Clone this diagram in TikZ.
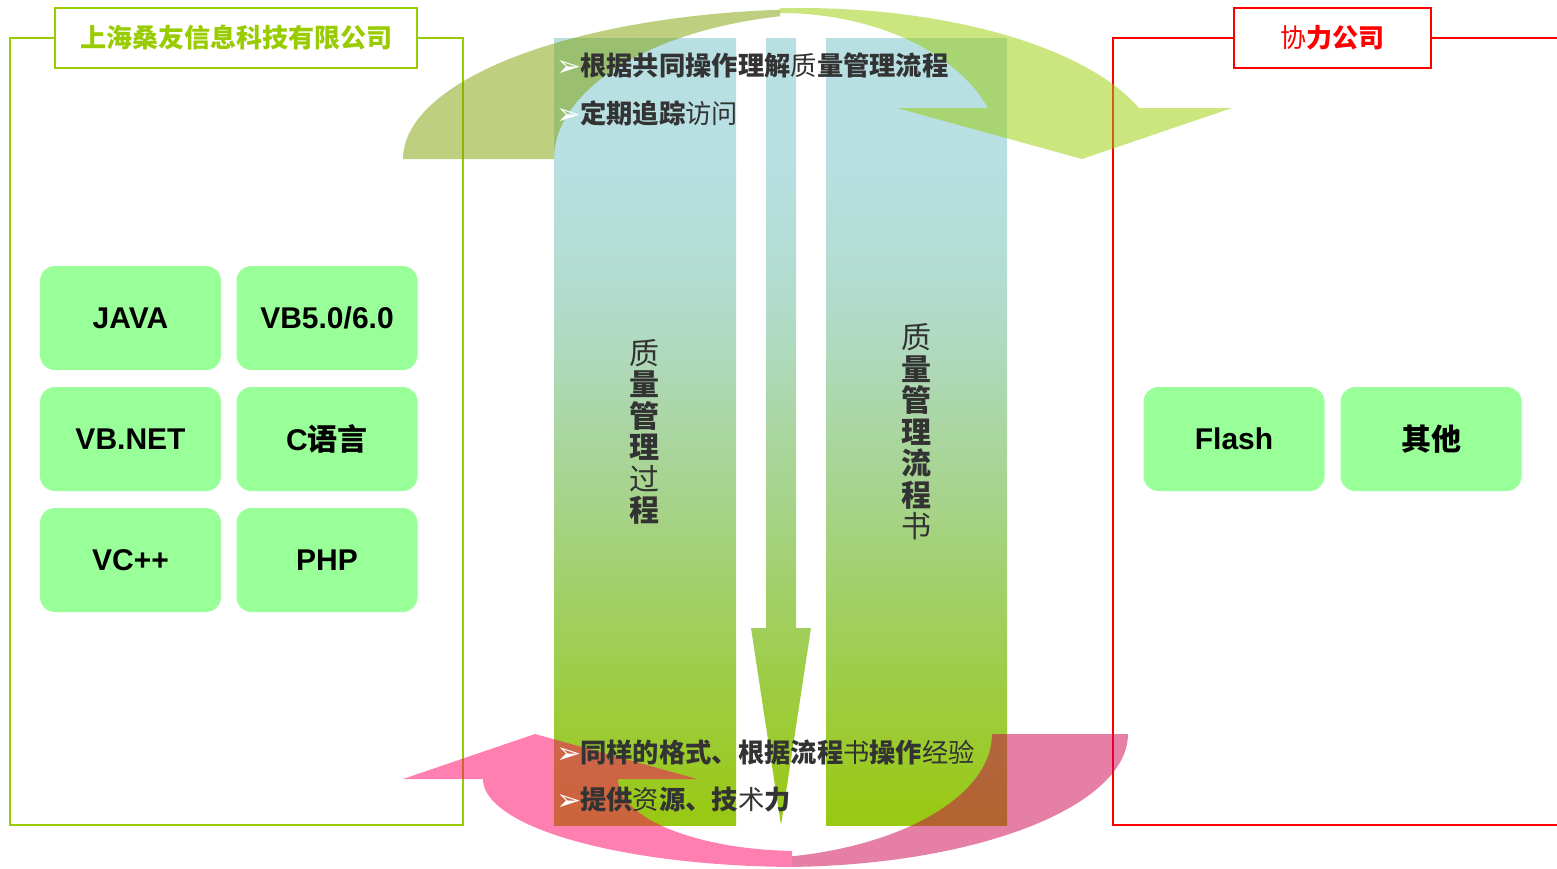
\documentclass[tikz,border=0pt]{standalone}
\usepackage{fontspec}
\newfontfamily\cjk{Noto Sans CJK SC}
\newfontfamily\arialf{Liberation Sans}
\newfontfamily\dejavu{DejaVu Sans}
\definecolor{lgreen}{HTML}{99CC00}
\definecolor{boxgreen}{HTML}{99FF99}
\definecolor{txtgray}{HTML}{333333}
\definecolor{cgA}{RGB}{153,201,17}
\definecolor{cgB}{RGB}{158,205,75}
\definecolor{cgB2}{RGB}{166,211,135}
\definecolor{cgC}{RGB}{178,219,205}
\definecolor{cgD}{RGB}{184,224,227}
\definecolor{topdarkc}{RGB}{127,160,0}
\definecolor{pinkl}{RGB}{255,0,101}
\definecolor{pinkd}{RGB}{204,0,77}
\pgfdeclareverticalshading{colgrad}{100bp}{color(0bp)=(cgA); color(25bp)=(cgA); color(35bp)=(cgB); color(45bp)=(cgB2); color(58.35bp)=(cgC); color(67.5bp)=(cgD); color(100bp)=(cgD)}
\newcommand{\rg}[1]{{\mdseries #1}}
\tikzset{
  tbox/.style={fill=boxgreen, rounded corners=15pt, minimum width=181pt, minimum height=104pt, inner sep=0pt, font=\arialf\bfseries\fontsize{30}{36}\selectfont, text=black},
  titlebox/.style={line width=2pt, fill=white, minimum height=60pt, inner sep=0pt, font=\cjk\bfseries\fontsize{26}{30}\selectfont},
  vtext/.style={align=center, inner sep=0pt, text=txtgray, font=\cjk\bfseries\fontsize{30}{31.5}\selectfont},
  bullettext/.style={anchor=west, inner sep=0pt, text=txtgray, font=\cjk\bfseries\fontsize{26.3}{30}\selectfont},
  frameline/.style={line width=2pt},
  arrowfill/.style={fill opacity=0.5}
}
\newcommand{\bul}{{\dejavu\fontsize{30}{30}\selectfont\color{white}\raisebox{-1pt}{➢}}\hspace{-1pt}}
\begin{document}
\begin{tikzpicture}[x=1pt,y=-1pt]
\useasboundingbox (0,0) rectangle (1557,868);
\fill[white] (0,0) rectangle (1557,868);

% frames
\draw[frameline, lgreen] (10,38) rectangle (463,825);
\draw[frameline, red] (1557,38) -- (1113,38) -- (1113,825) -- (1557,825);
\node[titlebox, draw=lgreen, minimum width=362pt, text=lgreen] (t1) at (236,38) {上海桑友信息科技有限公司};
\node[titlebox, draw=red, minimum width=197pt, text=red] (t2) at (1332.5,38) {\rg{协}力公司};

% boxes
\node[tbox] (java) at (130.5,318) {JAVA};
\node[tbox] (vb) at (327,318) {VB5.0/6.0};
\node[tbox] (vbnet) at (130.5,439) {VB.NET};
\node[tbox] (cl) at (327,439) {C{\cjk 语言}};
\node[tbox] (vc) at (130.5,560) {VC++};
\node[tbox] (php) at (327,560) {PHP};
\node[tbox] (flash) at (1234,439) {Flash};
\node[tbox] (other) at (1431,439) {{\cjk 其他}};

% columns
\path[shading=colgrad] (554,38) rectangle (736,825);
\path[shading=colgrad] (826,38) rectangle (1007,825);
\path[shading=colgrad] (766,38) -- (796,38) -- (796,628) -- (811,628) -- (781,825) -- (751,628) -- (766,628) -- cycle;

% top curved arrow
\fill[arrowfill, topdarkc] plot[domain=180:264.5,samples=60,variable=\t] ({820+417*cos(\t)},{159+150*sin(\t)})
  -- plot[domain=257.9:180,samples=60,variable=\t] ({840+286*cos(\t)},{159+146*sin(\t)}) -- cycle;
\fill[arrowfill, lgreen] plot[domain=266.8:340.3,samples=60,variable=\t] ({800+360*cos(\t)},{159+151*sin(\t)})
  -- (1232,108) -- (1082,159) -- (897,108)
  -- plot[domain=339.6:270,samples=60,variable=\t] ({780+222*cos(\t)},{159+146*sin(\t)}) -- cycle;

% bottom curved arrow
\fill[arrowfill, pinkd] plot[domain=0:88,samples=60,variable=\t] ({780+348*cos(\t)},{734+133*sin(\t)})
  -- plot[domain=78.1:0,samples=60,variable=\t] ({740+252*cos(\t)},{734+125*sin(\t)}) -- cycle;
\fill[arrowfill, pinkl] (403,779) -- (535,734) -- (697,779)
  -- plot[domain=180:92.5,samples=60,variable=\t] ({800+182*cos(\t)},{779+72*sin(\t)})
  -- plot[domain=91.45:180,samples=60,variable=\t] ({800+317*cos(\t)},{779+88*sin(\t)}) -- cycle;

% texts
\node[bullettext] (l1) at (556,65) {\bul 根据共同操作理解\rg{质}量管理流程};
\node[bullettext] (l2) at (556,113) {\bul 定期追踪\rg{访问}};
\node[bullettext] (l3) at (556,752) {\bul 同样的格式、根据流程\rg{书}操作\rg{经验}};
\node[bullettext] (l4) at (556,800) {\bul 提供\rg{资}源、技\rg{术}力};
\node[vtext] (v1) at (644,432) {\rg{质}\\量\\管\\理\\\rg{过}\\程};
\node[vtext] (v2) at (916,432) {\rg{质}\\量\\管\\理\\流\\程\\\rg{书}};
\end{tikzpicture}
\end{document}
